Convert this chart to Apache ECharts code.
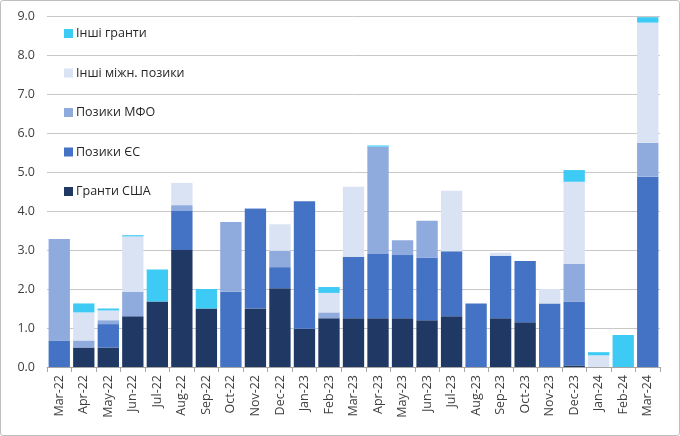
<!DOCTYPE html>
<html><head><meta charset="utf-8">
<script src="https://cdn.jsdelivr.net/npm/echarts@6/dist/echarts.min.js"></script>
<style>html,body{margin:0;padding:0;background:#fff}#c{width:678px;height:434px;border:1px solid #bfbfbf;border-radius:3px}</style>
</head><body><div id="c"></div>
<script>
const categories = ['Mar-22','Apr-22','May-22','Jun-22','Jul-22','Aug-22','Sep-22','Oct-22','Nov-22','Dec-22','Jan-23','Feb-23','Mar-23','Apr-23','May-23','Jun-23','Jul-23','Aug-23','Sep-23','Oct-23','Nov-23','Dec-23','Jan-24','Feb-24','Mar-24'];
const grantsUSA   = [0,0.5,0.5,1.3,1.68,3.0,1.5,0,1.5,2.02,0.98,1.25,1.25,1.25,1.25,1.2,1.3,0,1.25,1.15,0,0.04,0,0,0];
const loansEU     = [0.68,0,0.6,0,0,1.0,0,1.93,2.55,0.54,3.27,0,1.58,1.65,1.62,1.6,1.67,1.63,1.6,1.57,1.63,1.64,0,0,4.88];
const loansIFI    = [2.6,0.18,0.1,0.63,0,0.15,0,1.79,0.02,0.42,0,0.15,0,2.75,0.38,0.95,0,0,0,0,0,0.97,0,0,0.87];
const otherLoans  = [0,0.72,0.25,1.42,0,0.57,0,0,0,0.68,0,0.5,1.79,0,0,0,1.55,0,0.08,0,0.37,2.1,0.3,0,3.08];
const otherGrants = [0,0.23,0.05,0.03,0.82,0,0.5,0,0,0,0,0.15,0,0.03,0,0,0,0,0,0,0,0.3,0.08,0.82,0.14];
const names = ['Гранти США','Позики ЄС','Позики МФО','Інші міжн. позики','Інші гранти'];
const colors = ['#1F3864','#4472C4','#8FAADC','#DAE3F3','#3DCAF5'];
const data = [grantsUSA, loansEU, loansIFI, otherLoans, otherGrants];
const font = '"Open Sans", "Noto Sans", sans-serif';
const chart = echarts.init(document.getElementById('c'));
chart.setOption({
  animation:false,
  textStyle:{fontFamily:font},
  grid:{left:46,right:19,top:15,bottom:68},
  legend:{
    orient:'vertical', left:58, top:21, itemGap:26.5,
    itemWidth:9, itemHeight:9, icon:'rect',
    data:names.slice().reverse(),
    textStyle:{fontSize:12.5,color:'#262626',fontFamily:font, padding:[0,0,0,-2]}
  },
  xAxis:{
    type:'category', data:categories,
    axisLine:{lineStyle:{color:'#A6A6A6'}},
    axisTick:{show:true,length:5,lineStyle:{color:'#A6A6A6'}},
    axisLabel:{rotate:90,fontSize:12.5,color:'#404040',margin:8,fontFamily:font}
  },
  yAxis:{
    type:'value', min:0, max:9, interval:1,
    axisLabel:{formatter:v=>v.toFixed(1),fontSize:12.5,color:'#404040',margin:12,fontFamily:font},
    splitLine:{lineStyle:{color:'#C8C8C8'}},
    axisLine:{show:false}, axisTick:{show:false}
  },
  series: names.map((n,i)=>({
    name:n, type:'bar', stack:'total', data:data[i],
    barCategoryGap:'13%',
    itemStyle:{color:colors[i]}
  }))
});
</script></body></html>
